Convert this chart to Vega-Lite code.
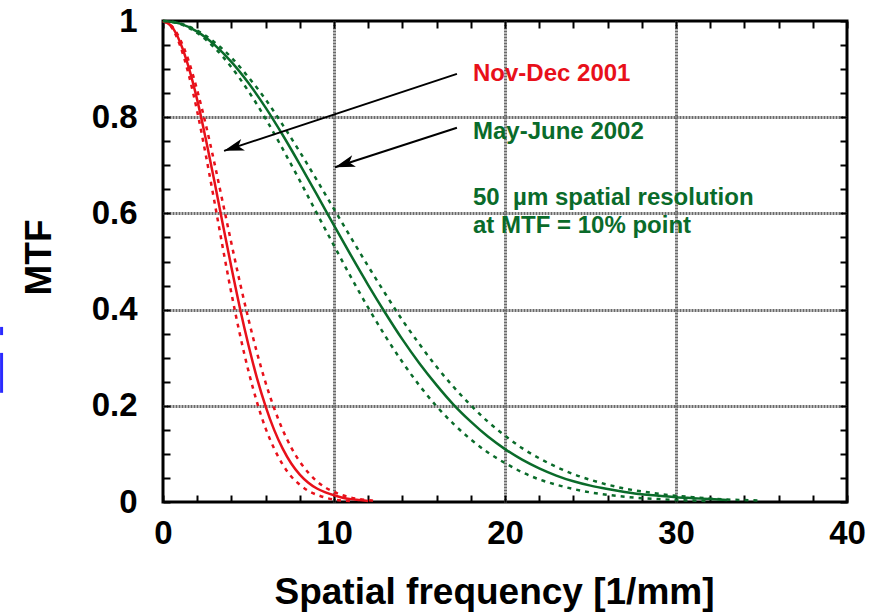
{
  "$schema": "https://vega.github.io/schema/vega-lite/v6.json",
  "width": 684,
  "height": 481,
  "autosize": {"type": "none"},
  "padding": {"left": 163, "top": 21, "right": 36, "bottom": 112},
  "background": "white",
  "config": {
    "view": {"stroke": "black", "strokeWidth": 3},
    "font": "Liberation Sans"
  },
  "datasets": {
    "curves": [
      {"f": 0, "mtf": 1, "series": "Nov-Dec 2001", "band": "mean"},
      {"f": 0.5, "mtf": 0.989, "series": "Nov-Dec 2001", "band": "mean"},
      {"f": 1, "mtf": 0.956, "series": "Nov-Dec 2001", "band": "mean"},
      {"f": 1.5, "mtf": 0.904, "series": "Nov-Dec 2001", "band": "mean"},
      {"f": 2, "mtf": 0.836, "series": "Nov-Dec 2001", "band": "mean"},
      {"f": 2.5, "mtf": 0.755, "series": "Nov-Dec 2001", "band": "mean"},
      {"f": 3, "mtf": 0.668, "series": "Nov-Dec 2001", "band": "mean"},
      {"f": 3.5, "mtf": 0.577, "series": "Nov-Dec 2001", "band": "mean"},
      {"f": 4, "mtf": 0.488, "series": "Nov-Dec 2001", "band": "mean"},
      {"f": 4.5, "mtf": 0.403, "series": "Nov-Dec 2001", "band": "mean"},
      {"f": 5, "mtf": 0.326, "series": "Nov-Dec 2001", "band": "mean"},
      {"f": 5.5, "mtf": 0.257, "series": "Nov-Dec 2001", "band": "mean"},
      {"f": 6, "mtf": 0.199, "series": "Nov-Dec 2001", "band": "mean"},
      {"f": 6.5, "mtf": 0.150, "series": "Nov-Dec 2001", "band": "mean"},
      {"f": 7, "mtf": 0.111, "series": "Nov-Dec 2001", "band": "mean"},
      {"f": 7.5, "mtf": 0.080, "series": "Nov-Dec 2001", "band": "mean"},
      {"f": 8, "mtf": 0.057, "series": "Nov-Dec 2001", "band": "mean"},
      {"f": 8.5, "mtf": 0.040, "series": "Nov-Dec 2001", "band": "mean"},
      {"f": 9, "mtf": 0.028, "series": "Nov-Dec 2001", "band": "mean"},
      {"f": 9.5, "mtf": 0.020, "series": "Nov-Dec 2001", "band": "mean"},
      {"f": 10, "mtf": 0.014, "series": "Nov-Dec 2001", "band": "mean"},
      {"f": 10.5, "mtf": 0.009, "series": "Nov-Dec 2001", "band": "mean"},
      {"f": 11, "mtf": 0.006, "series": "Nov-Dec 2001", "band": "mean"},
      {"f": 11.5, "mtf": 0.004, "series": "Nov-Dec 2001", "band": "mean"},
      {"f": 12, "mtf": 0.002, "series": "Nov-Dec 2001", "band": "mean"},

      {"f": 0, "mtf": 1, "series": "Nov-Dec 2001", "band": "upper"},
      {"f": 0.5, "mtf": 0.990, "series": "Nov-Dec 2001", "band": "upper"},
      {"f": 1, "mtf": 0.962, "series": "Nov-Dec 2001", "band": "upper"},
      {"f": 1.5, "mtf": 0.917, "series": "Nov-Dec 2001", "band": "upper"},
      {"f": 2, "mtf": 0.856, "series": "Nov-Dec 2001", "band": "upper"},
      {"f": 2.5, "mtf": 0.785, "series": "Nov-Dec 2001", "band": "upper"},
      {"f": 3, "mtf": 0.706, "series": "Nov-Dec 2001", "band": "upper"},
      {"f": 3.5, "mtf": 0.622, "series": "Nov-Dec 2001", "band": "upper"},
      {"f": 4, "mtf": 0.538, "series": "Nov-Dec 2001", "band": "upper"},
      {"f": 4.5, "mtf": 0.456, "series": "Nov-Dec 2001", "band": "upper"},
      {"f": 5, "mtf": 0.380, "series": "Nov-Dec 2001", "band": "upper"},
      {"f": 5.5, "mtf": 0.310, "series": "Nov-Dec 2001", "band": "upper"},
      {"f": 6, "mtf": 0.248, "series": "Nov-Dec 2001", "band": "upper"},
      {"f": 6.5, "mtf": 0.195, "series": "Nov-Dec 2001", "band": "upper"},
      {"f": 7, "mtf": 0.150, "series": "Nov-Dec 2001", "band": "upper"},
      {"f": 7.5, "mtf": 0.113, "series": "Nov-Dec 2001", "band": "upper"},
      {"f": 8, "mtf": 0.084, "series": "Nov-Dec 2001", "band": "upper"},
      {"f": 8.5, "mtf": 0.061, "series": "Nov-Dec 2001", "band": "upper"},
      {"f": 9, "mtf": 0.043, "series": "Nov-Dec 2001", "band": "upper"},
      {"f": 9.5, "mtf": 0.030, "series": "Nov-Dec 2001", "band": "upper"},
      {"f": 10, "mtf": 0.021, "series": "Nov-Dec 2001", "band": "upper"},
      {"f": 10.5, "mtf": 0.014, "series": "Nov-Dec 2001", "band": "upper"},
      {"f": 11, "mtf": 0.009, "series": "Nov-Dec 2001", "band": "upper"},
      {"f": 11.5, "mtf": 0.006, "series": "Nov-Dec 2001", "band": "upper"},
      {"f": 12, "mtf": 0.004, "series": "Nov-Dec 2001", "band": "upper"},
      {"f": 12.5, "mtf": 0.002, "series": "Nov-Dec 2001", "band": "upper"},

      {"f": 0, "mtf": 1, "series": "Nov-Dec 2001", "band": "lower"},
      {"f": 0.5, "mtf": 0.987, "series": "Nov-Dec 2001", "band": "lower"},
      {"f": 1, "mtf": 0.949, "series": "Nov-Dec 2001", "band": "lower"},
      {"f": 1.5, "mtf": 0.889, "series": "Nov-Dec 2001", "band": "lower"},
      {"f": 2, "mtf": 0.812, "series": "Nov-Dec 2001", "band": "lower"},
      {"f": 2.5, "mtf": 0.722, "series": "Nov-Dec 2001", "band": "lower"},
      {"f": 3, "mtf": 0.626, "series": "Nov-Dec 2001", "band": "lower"},
      {"f": 3.5, "mtf": 0.528, "series": "Nov-Dec 2001", "band": "lower"},
      {"f": 4, "mtf": 0.434, "series": "Nov-Dec 2001", "band": "lower"},
      {"f": 4.5, "mtf": 0.348, "series": "Nov-Dec 2001", "band": "lower"},
      {"f": 5, "mtf": 0.272, "series": "Nov-Dec 2001", "band": "lower"},
      {"f": 5.5, "mtf": 0.207, "series": "Nov-Dec 2001", "band": "lower"},
      {"f": 6, "mtf": 0.153, "series": "Nov-Dec 2001", "band": "lower"},
      {"f": 6.5, "mtf": 0.111, "series": "Nov-Dec 2001", "band": "lower"},
      {"f": 7, "mtf": 0.078, "series": "Nov-Dec 2001", "band": "lower"},
      {"f": 7.5, "mtf": 0.053, "series": "Nov-Dec 2001", "band": "lower"},
      {"f": 8, "mtf": 0.036, "series": "Nov-Dec 2001", "band": "lower"},
      {"f": 8.5, "mtf": 0.023, "series": "Nov-Dec 2001", "band": "lower"},
      {"f": 9, "mtf": 0.015, "series": "Nov-Dec 2001", "band": "lower"},
      {"f": 9.5, "mtf": 0.009, "series": "Nov-Dec 2001", "band": "lower"},
      {"f": 10, "mtf": 0.005, "series": "Nov-Dec 2001", "band": "lower"},
      {"f": 10.5, "mtf": 0.003, "series": "Nov-Dec 2001", "band": "lower"},
      {"f": 11, "mtf": 0.002, "series": "Nov-Dec 2001", "band": "lower"},

      {"f": 0, "mtf": 1, "series": "May-June 2002", "band": "mean"},
      {"f": 1, "mtf": 0.9945, "series": "May-June 2002", "band": "mean"},
      {"f": 2, "mtf": 0.978, "series": "May-June 2002", "band": "mean"},
      {"f": 3, "mtf": 0.951, "series": "May-June 2002", "band": "mean"},
      {"f": 4, "mtf": 0.915, "series": "May-June 2002", "band": "mean"},
      {"f": 5, "mtf": 0.871, "series": "May-June 2002", "band": "mean"},
      {"f": 6, "mtf": 0.820, "series": "May-June 2002", "band": "mean"},
      {"f": 7, "mtf": 0.763, "series": "May-June 2002", "band": "mean"},
      {"f": 8, "mtf": 0.702, "series": "May-June 2002", "band": "mean"},
      {"f": 9, "mtf": 0.639, "series": "May-June 2002", "band": "mean"},
      {"f": 10, "mtf": 0.575, "series": "May-June 2002", "band": "mean"},
      {"f": 11, "mtf": 0.512, "series": "May-June 2002", "band": "mean"},
      {"f": 12, "mtf": 0.451, "series": "May-June 2002", "band": "mean"},
      {"f": 13, "mtf": 0.393, "series": "May-June 2002", "band": "mean"},
      {"f": 14, "mtf": 0.338, "series": "May-June 2002", "band": "mean"},
      {"f": 15, "mtf": 0.288, "series": "May-June 2002", "band": "mean"},
      {"f": 16, "mtf": 0.243, "series": "May-June 2002", "band": "mean"},
      {"f": 17, "mtf": 0.202, "series": "May-June 2002", "band": "mean"},
      {"f": 18, "mtf": 0.167, "series": "May-June 2002", "band": "mean"},
      {"f": 19, "mtf": 0.136, "series": "May-June 2002", "band": "mean"},
      {"f": 20, "mtf": 0.110, "series": "May-June 2002", "band": "mean"},
      {"f": 21, "mtf": 0.088, "series": "May-June 2002", "band": "mean"},
      {"f": 22, "mtf": 0.070, "series": "May-June 2002", "band": "mean"},
      {"f": 23, "mtf": 0.055, "series": "May-June 2002", "band": "mean"},
      {"f": 24, "mtf": 0.043, "series": "May-June 2002", "band": "mean"},
      {"f": 25, "mtf": 0.034, "series": "May-June 2002", "band": "mean"},
      {"f": 26, "mtf": 0.027, "series": "May-June 2002", "band": "mean"},
      {"f": 27, "mtf": 0.021, "series": "May-June 2002", "band": "mean"},
      {"f": 28, "mtf": 0.016, "series": "May-June 2002", "band": "mean"},
      {"f": 29, "mtf": 0.013, "series": "May-June 2002", "band": "mean"},
      {"f": 30, "mtf": 0.010, "series": "May-June 2002", "band": "mean"},
      {"f": 31, "mtf": 0.008, "series": "May-June 2002", "band": "mean"},
      {"f": 32, "mtf": 0.006, "series": "May-June 2002", "band": "mean"},
      {"f": 33, "mtf": 0.004, "series": "May-June 2002", "band": "mean"},

      {"f": 0, "mtf": 1, "series": "May-June 2002", "band": "upper"},
      {"f": 1, "mtf": 0.995, "series": "May-June 2002", "band": "upper"},
      {"f": 2, "mtf": 0.980, "series": "May-June 2002", "band": "upper"},
      {"f": 3, "mtf": 0.956, "series": "May-June 2002", "band": "upper"},
      {"f": 4, "mtf": 0.924, "series": "May-June 2002", "band": "upper"},
      {"f": 5, "mtf": 0.883, "series": "May-June 2002", "band": "upper"},
      {"f": 6, "mtf": 0.837, "series": "May-June 2002", "band": "upper"},
      {"f": 7, "mtf": 0.784, "series": "May-June 2002", "band": "upper"},
      {"f": 8, "mtf": 0.728, "series": "May-June 2002", "band": "upper"},
      {"f": 9, "mtf": 0.669, "series": "May-June 2002", "band": "upper"},
      {"f": 10, "mtf": 0.609, "series": "May-June 2002", "band": "upper"},
      {"f": 11, "mtf": 0.549, "series": "May-June 2002", "band": "upper"},
      {"f": 12, "mtf": 0.490, "series": "May-June 2002", "band": "upper"},
      {"f": 13, "mtf": 0.433, "series": "May-June 2002", "band": "upper"},
      {"f": 14, "mtf": 0.378, "series": "May-June 2002", "band": "upper"},
      {"f": 15, "mtf": 0.328, "series": "May-June 2002", "band": "upper"},
      {"f": 16, "mtf": 0.281, "series": "May-June 2002", "band": "upper"},
      {"f": 17, "mtf": 0.239, "series": "May-June 2002", "band": "upper"},
      {"f": 18, "mtf": 0.201, "series": "May-June 2002", "band": "upper"},
      {"f": 19, "mtf": 0.167, "series": "May-June 2002", "band": "upper"},
      {"f": 20, "mtf": 0.138, "series": "May-June 2002", "band": "upper"},
      {"f": 21, "mtf": 0.112, "series": "May-June 2002", "band": "upper"},
      {"f": 22, "mtf": 0.091, "series": "May-June 2002", "band": "upper"},
      {"f": 23, "mtf": 0.073, "series": "May-June 2002", "band": "upper"},
      {"f": 24, "mtf": 0.058, "series": "May-June 2002", "band": "upper"},
      {"f": 25, "mtf": 0.046, "series": "May-June 2002", "band": "upper"},
      {"f": 26, "mtf": 0.036, "series": "May-June 2002", "band": "upper"},
      {"f": 27, "mtf": 0.028, "series": "May-June 2002", "band": "upper"},
      {"f": 28, "mtf": 0.022, "series": "May-June 2002", "band": "upper"},
      {"f": 29, "mtf": 0.017, "series": "May-June 2002", "band": "upper"},
      {"f": 30, "mtf": 0.013, "series": "May-June 2002", "band": "upper"},
      {"f": 31, "mtf": 0.010, "series": "May-June 2002", "band": "upper"},
      {"f": 32, "mtf": 0.007, "series": "May-June 2002", "band": "upper"},
      {"f": 33, "mtf": 0.005, "series": "May-June 2002", "band": "upper"},
      {"f": 34, "mtf": 0.004, "series": "May-June 2002", "band": "upper"},
      {"f": 35, "mtf": 0.003, "series": "May-June 2002", "band": "upper"},

      {"f": 0, "mtf": 1, "series": "May-June 2002", "band": "lower"},
      {"f": 1, "mtf": 0.994, "series": "May-June 2002", "band": "lower"},
      {"f": 2, "mtf": 0.975, "series": "May-June 2002", "band": "lower"},
      {"f": 3, "mtf": 0.945, "series": "May-June 2002", "band": "lower"},
      {"f": 4, "mtf": 0.904, "series": "May-June 2002", "band": "lower"},
      {"f": 5, "mtf": 0.854, "series": "May-June 2002", "band": "lower"},
      {"f": 6, "mtf": 0.797, "series": "May-June 2002", "band": "lower"},
      {"f": 7, "mtf": 0.734, "series": "May-June 2002", "band": "lower"},
      {"f": 8, "mtf": 0.668, "series": "May-June 2002", "band": "lower"},
      {"f": 9, "mtf": 0.600, "series": "May-June 2002", "band": "lower"},
      {"f": 10, "mtf": 0.533, "series": "May-June 2002", "band": "lower"},
      {"f": 11, "mtf": 0.467, "series": "May-June 2002", "band": "lower"},
      {"f": 12, "mtf": 0.404, "series": "May-June 2002", "band": "lower"},
      {"f": 13, "mtf": 0.345, "series": "May-June 2002", "band": "lower"},
      {"f": 14, "mtf": 0.291, "series": "May-June 2002", "band": "lower"},
      {"f": 15, "mtf": 0.242, "series": "May-June 2002", "band": "lower"},
      {"f": 16, "mtf": 0.199, "series": "May-June 2002", "band": "lower"},
      {"f": 17, "mtf": 0.162, "series": "May-June 2002", "band": "lower"},
      {"f": 18, "mtf": 0.130, "series": "May-June 2002", "band": "lower"},
      {"f": 19, "mtf": 0.103, "series": "May-June 2002", "band": "lower"},
      {"f": 20, "mtf": 0.081, "series": "May-June 2002", "band": "lower"},
      {"f": 21, "mtf": 0.062, "series": "May-June 2002", "band": "lower"},
      {"f": 22, "mtf": 0.047, "series": "May-June 2002", "band": "lower"},
      {"f": 23, "mtf": 0.036, "series": "May-June 2002", "band": "lower"},
      {"f": 24, "mtf": 0.027, "series": "May-June 2002", "band": "lower"},
      {"f": 25, "mtf": 0.020, "series": "May-June 2002", "band": "lower"},
      {"f": 26, "mtf": 0.015, "series": "May-June 2002", "band": "lower"},
      {"f": 27, "mtf": 0.011, "series": "May-June 2002", "band": "lower"},
      {"f": 28, "mtf": 0.008, "series": "May-June 2002", "band": "lower"},
      {"f": 29, "mtf": 0.006, "series": "May-June 2002", "band": "lower"},
      {"f": 30, "mtf": 0.004, "series": "May-June 2002", "band": "lower"},
      {"f": 31, "mtf": 0.003, "series": "May-June 2002", "band": "lower"},
      {"f": 32, "mtf": 0.002, "series": "May-June 2002", "band": "lower"}
    ],
    "arrows": [
      {"f": 17.19, "mtf": 0.890, "f2": 3.57, "mtf2": 0.730},
      {"f": 17.19, "mtf": 0.778, "f2": 10.06, "mtf2": 0.696}
    ],
    "redText": [
      {"f": 18.13, "mtf": 0.876, "label": "Nov-Dec 2001"}
    ],
    "greenText": [
      {"f": 18.13, "mtf": 0.755, "label": "May-June 2002"},
      {"f": 18.13, "mtf": 0.617, "label": "50 \u00a0µm spatial resolution"},
      {"f": 18.13, "mtf": 0.559, "label": "at MTF = 10% point"}
    ],
    "stray": [
      {"f": -9.44, "mtf": 0.364, "mtf2": 0.347},
      {"f": -9.44, "mtf": 0.310, "mtf2": 0.227}
    ]
  },
  "resolve": {"axis": {"x": "independent", "y": "independent"}},
  "layer": [
    {
      "data": {"name": "curves"},
      "transform": [{"filter": "datum.band == 'mean'"}],
      "mark": {"type": "line", "strokeWidth": 2.5, "interpolate": "monotone"},
      "encoding": {
        "x": {
          "field": "f", "type": "quantitative",
          "scale": {"domain": [0, 40], "nice": false, "zero": false},
          "axis": {
            "orient": "bottom",
            "values": [0, 2, 4, 6, 8, 10, 12, 14, 16, 18, 20, 22, 24, 26, 28, 30, 32, 34, 36, 38, 40],
            "format": "d",
            "labelExpr": "datum.value % 10 === 0 ? datum.label : ''",
            "labelFontSize": 33, "labelFontWeight": "bold", "labelColor": "black",
            "labelFlush": false, "labelOverlap": false, "labelBound": false,
            "labelPadding": 22,
            "ticks": true, "tickSize": -7, "tickWidth": 2, "tickColor": "black",
            "domain": false,
            "grid": true, "gridColor": "#6a6a6a", "gridWidth": 3, "gridDash": [2, 1],
            "gridOpacity": {"condition": {"test": "datum.value % 10 === 0 && datum.value > 0 && datum.value < 40", "value": 1}, "value": 0},
            "title": "Spatial frequency [1/mm]",
            "titleFontSize": 37, "titleFontWeight": "bold", "titleColor": "black",
            "titleX": 331, "titleY": 101, "titleBaseline": "alphabetic", "titleAlign": "center", "titleAnchor": null
          }
        },
        "y": {
          "field": "mtf", "type": "quantitative",
          "scale": {"domain": [0, 1], "nice": false},
          "axis": {
            "orient": "left",
            "values": [0, 0.05, 0.1, 0.15, 0.2, 0.25, 0.3, 0.35, 0.4, 0.45, 0.5, 0.55, 0.6, 0.65, 0.7, 0.75, 0.8, 0.85, 0.9, 0.95, 1],
            "labelExpr": "abs(datum.value * 5 - round(datum.value * 5)) < 0.000001 ? format(datum.value, '~g') : ''",
            "labelFontSize": 33, "labelFontWeight": "bold", "labelColor": "black",
            "labelFlush": false, "labelOverlap": false, "labelBound": false,
            "labelPadding": 33,
            "ticks": true, "tickSize": -7, "tickWidth": 2, "tickColor": "black",
            "domain": false,
            "grid": true, "gridColor": "#6a6a6a", "gridWidth": 3, "gridDash": [2, 1],
            "gridOpacity": {"condition": {"test": "abs(datum.value * 5 - round(datum.value * 5)) < 0.000001 && datum.value > 0.01 && datum.value < 0.99", "value": 1}, "value": 0},
            "title": "MTF",
            "titleFontSize": 37, "titleFontWeight": "bold", "titleColor": "black",
            "titleX": -113, "titleY": 236, "titleAngle": 270, "titleBaseline": "alphabetic", "titleAlign": "center", "titleAnchor": null
          }
        },
        "color": {
          "field": "series", "type": "nominal",
          "scale": {"domain": ["Nov-Dec 2001", "May-June 2002"], "range": ["#e8101a", "#0a6b2a"]},
          "legend": null
        }
      }
    },
    {
      "data": {"name": "curves"},
      "transform": [{"filter": "datum.band != 'mean'"}],
      "mark": {"type": "line", "strokeWidth": 2.5, "strokeDash": [4, 5], "interpolate": "monotone"},
      "encoding": {
        "x": {"field": "f", "type": "quantitative", "axis": null},
        "y": {"field": "mtf", "type": "quantitative", "axis": null},
        "detail": {"field": "band", "type": "nominal"},
        "color": {"field": "series", "type": "nominal", "legend": null}
      }
    },
    {
      "data": {"name": "arrows"},
      "mark": {"type": "rule", "color": "black", "strokeWidth": 2},
      "encoding": {
        "x": {"field": "f", "type": "quantitative", "axis": null},
        "y": {"field": "mtf", "type": "quantitative", "axis": null},
        "x2": {"field": "f2"},
        "y2": {"field": "mtf2"}
      }
    },
    {
      "data": {"name": "arrows"},
      "mark": {"type": "point", "shape": "M0,0 L2,-0.6 L1.5,0 L2,0.6 Z", "filled": true, "color": "black", "opacity": 1, "size": 400, "angle": 342, "strokeWidth": 0},
      "encoding": {
        "x": {"field": "f2", "type": "quantitative", "axis": null},
        "y": {"field": "mtf2", "type": "quantitative", "axis": null}
      }
    },
    {
      "data": {"name": "redText"},
      "mark": {"type": "text", "align": "left", "baseline": "alphabetic", "fontSize": 24, "fontWeight": "bold", "color": "#e8101a"},
      "encoding": {
        "x": {
          "field": "f", "type": "quantitative",
          "axis": {
            "orient": "top",
            "values": [0, 2, 4, 6, 8, 10, 12, 14, 16, 18, 20, 22, 24, 26, 28, 30, 32, 34, 36, 38, 40],
            "labels": false, "domain": false, "grid": false, "title": null,
            "ticks": true, "tickSize": -7, "tickWidth": 2, "tickColor": "black"
          }
        },
        "y": {
          "field": "mtf", "type": "quantitative",
          "axis": {
            "orient": "right",
            "values": [0, 0.05, 0.1, 0.15, 0.2, 0.25, 0.3, 0.35, 0.4, 0.45, 0.5, 0.55, 0.6, 0.65, 0.7, 0.75, 0.8, 0.85, 0.9, 0.95, 1],
            "labels": false, "domain": false, "grid": false, "title": null,
            "ticks": true, "tickSize": -7, "tickWidth": 2, "tickColor": "black"
          }
        },
        "text": {"field": "label"}
      }
    },
    {
      "data": {"name": "greenText"},
      "mark": {"type": "text", "align": "left", "baseline": "alphabetic", "fontSize": 24, "fontWeight": "bold", "color": "#0a6b2a"},
      "encoding": {
        "x": {"field": "f", "type": "quantitative", "axis": null},
        "y": {"field": "mtf", "type": "quantitative", "axis": null},
        "text": {"field": "label"}
      }
    },
    {
      "data": {"name": "stray"},
      "mark": {"type": "rule", "color": "#2a2aff", "strokeWidth": 3},
      "encoding": {
        "x": {"field": "f", "type": "quantitative", "axis": null},
        "y": {"field": "mtf", "type": "quantitative", "axis": null},
        "y2": {"field": "mtf2"}
      }
    }
  ]
}
